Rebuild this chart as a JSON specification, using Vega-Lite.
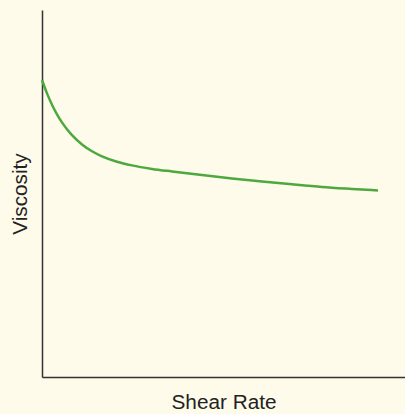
{
  "$schema": "https://vega.github.io/schema/vega-lite/v6.json",
  "width": 363,
  "height": 367,
  "autosize": {"type": "none"},
  "padding": {"left": 42, "top": 10, "right": 0, "bottom": 37},
  "background": "#fefbea",
  "config": {"view": {"stroke": null}},
  "data": {"values": [
    {"shear": 0, "viscosity": 297.0},
    {"shear": 5, "viscosity": 283.6},
    {"shear": 10, "viscosity": 272.3},
    {"shear": 15, "viscosity": 262.7},
    {"shear": 20, "viscosity": 254.6},
    {"shear": 25, "viscosity": 247.7},
    {"shear": 30, "viscosity": 241.8},
    {"shear": 40, "viscosity": 232.6},
    {"shear": 50, "viscosity": 225.8},
    {"shear": 60, "viscosity": 220.7},
    {"shear": 75, "viscosity": 215.3},
    {"shear": 90, "viscosity": 211.6},
    {"shear": 110, "viscosity": 208.1},
    {"shear": 130, "viscosity": 205.5},
    {"shear": 160, "viscosity": 201.9},
    {"shear": 190, "viscosity": 198.6},
    {"shear": 220, "viscosity": 195.5},
    {"shear": 250, "viscosity": 192.7},
    {"shear": 280, "viscosity": 190.1},
    {"shear": 310, "viscosity": 188.1},
    {"shear": 336, "viscosity": 186.5}
  ]},
  "mark": {"type": "line", "interpolate": "monotone", "color": "#4ca83f", "strokeWidth": 2.5},
  "encoding": {
    "x": {"field": "shear", "type": "quantitative", "scale": {"domain": [0, 363], "nice": false, "zero": false},
      "axis": {"title": "Shear Rate", "labels": false, "ticks": false, "grid": false, "domainColor": "#333333", "domainWidth": 1.5,
        "titleFont": "Liberation Sans", "titleFontSize": 20.75, "titleFontWeight": "normal", "titleColor": "#222222", "titlePadding": 15}},
    "y": {"field": "viscosity", "type": "quantitative", "scale": {"domain": [0, 367], "nice": false, "zero": false},
      "axis": {"title": "Viscosity", "labels": false, "ticks": false, "grid": false, "domainColor": "#333333", "domainWidth": 1.5,
        "titleFont": "Liberation Sans", "titleFontSize": 20.75, "titleFontWeight": "normal", "titleColor": "#222222", "titlePadding": 12}}
  }
}
